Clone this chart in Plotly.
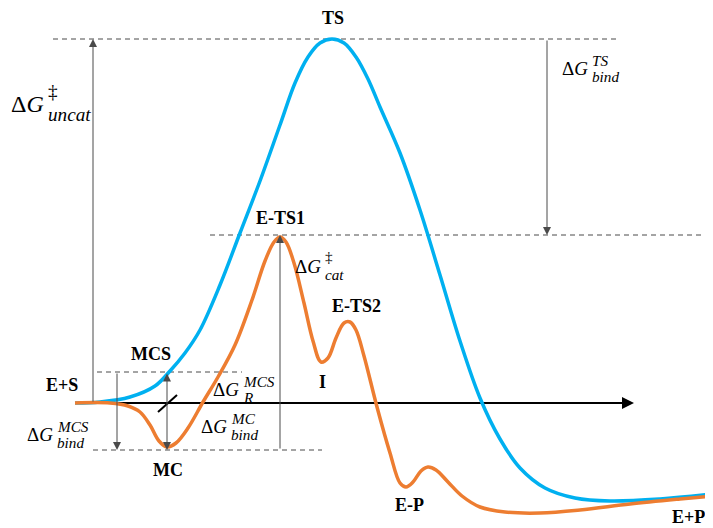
import plotly.graph_objects as go

# ---------------- data (energy relative to E+S = 0, arbitrary units) ----------------
rc_uncat = [75, 100, 130, 155, 170, 185, 200, 220, 240, 260, 280, 295, 308, 320, 332, 344, 356,
            368, 380, 400, 420, 440, 460, 480, 500, 520, 545, 575, 610, 660, 713]
g_uncat = [0, 1, 6, 17, 32, 50, 73, 118, 170, 222, 278, 320, 346, 360, 364, 360, 346,
           324, 296, 250, 193, 128, 62, 5, -36, -65, -85, -95, -98, -96, -91]

rc_cat = [75, 110, 128, 140, 150, 159, 167, 176, 188, 203, 218, 235, 252, 265, 274, 280, 286,
          294, 304, 313, 321, 328, 336, 344, 350, 356, 364, 377, 390, 400, 406, 413, 421, 428,
          436, 448, 462, 480, 505, 540, 580, 630, 680, 713]
g_cat = [0, 0, -3, -9, -22, -38, -44, -40, -25, 1, 26, 58, 103, 142, 161, 166, 161,
         140, 100, 62, 41, 45, 65, 80, 81, 73, 47, -4, -50, -80, -84, -79, -68, -64,
         -67, -79, -93, -104, -109, -110, -107, -101, -96, -93]

levels = {"TS": 364, "E-TS1": 168, "MCS": 31, "MC": -47, "E+S": 0}

state_labels = ["TS", "E-TS1", "E-TS2", "MCS", "E+S", "I", "MC", "E-P", "E+P"]
state_label_x = [333, 280, 356, 151, 62, 322, 168, 409, 688]
state_label_y = [385, 185, 97, 49, 18, 21, -67, -102, -114]

BLUE = "#00B0F0"
ORANGE = "#ED7D31"
GREY = "#4a4a4a"

fig = go.Figure()

# reaction coordinate axis (black line)
fig.add_trace(go.Scatter(x=[85, 628], y=[levels["E+S"]] * 2, mode="lines",
                         line=dict(color="black", width=2), hoverinfo="skip"))
# break mark on the axis
fig.add_trace(go.Scatter(x=[167 - 9, 167 + 10], y=[levels["E+S"] - 9, levels["E+S"] + 8], mode="lines",
                         line=dict(color="black", width=2), hoverinfo="skip"))

fig.add_trace(go.Scatter(x=rc_uncat, y=g_uncat, mode="lines",
                         line=dict(color=BLUE, width=3.5, shape="spline", smoothing=1.0), hoverinfo="skip"))
fig.add_trace(go.Scatter(x=rc_cat, y=g_cat, mode="lines",
                         line=dict(color=ORANGE, width=3.5, shape="spline", smoothing=1.0), hoverinfo="skip"))

# dashed reference levels
dashed = [("TS", 53, 620), ("E-TS1", 210, 705), ("MCS", 97, 242), ("MC", 93, 322)]
for name, x0, x1 in dashed:
    fig.add_shape(type="line", x0=x0, x1=x1, y0=levels[name], y1=levels[name],
                  line=dict(color=GREY, width=1, dash="5px,4px"), layer="below")

# arrowhead of the axis
fig.add_annotation(x=634, y=0, ax=615, ay=0, axref="x", ayref="y", xref="x", yref="y",
                   text="", showarrow=True, arrowhead=2, arrowsize=1.2, arrowwidth=2, arrowcolor="black")

# vertical arrows (x, tip level, tail level, double?)
arrows = [(93, "TS", "E+S", False), (547, "E-TS1", "TS", False), (280, "E-TS1", "MC", False),
          (117, "MC", "MCS", False), (167, "MC", "MCS", True)]
for x, tip, tail, both in arrows:
    fig.add_annotation(x=x, y=levels[tip], ax=x, ay=levels[tail], axref="x", ayref="y",
                       xref="x", yref="y", text="", showarrow=True, arrowhead=2, arrowsize=1.6,
                       arrowwidth=1, arrowcolor=GREY, startarrowhead=2, startarrowsize=1.6,
                       arrowside="end+start" if both else "end")

# state labels
for t, x, y in zip(state_labels, state_label_x, state_label_y):
    fig.add_annotation(x=x, y=y, text=f"<b>{t}</b>", showarrow=False, xanchor="center", yanchor="middle",
                       font=dict(family="Liberation Serif", size=18, color="black"))

# ΔG labels: (junction x, center y, sup, sub, size)
dg_labels = [(46, 299, "‡", "uncat", 24), (590, 335, "TS", "bind", 19), (323, 137, "‡", "cat", 19),
             (241, 14, "MCS", "R", 19), (229, -23, "MC", "bind", 19), (55, -31, "MCS", "bind", 19)]
for xj, yc, sup, sub, sz in dg_labels:
    fig.add_annotation(x=xj, y=yc, text="Δ<i>G</i>", showarrow=False, xanchor="right", yanchor="middle",
                       font=dict(family="Liberation Serif", size=sz, color="black"))
    is_dag = sup == "‡"
    fig.add_annotation(x=xj, y=yc + sz * (0.52 if is_dag else 0.42), text=sup if is_dag else f"<i>{sup}</i>",
                       showarrow=False, xanchor="left", yanchor="middle",
                       font=dict(family="Liberation Serif", size=sz * 0.8, color="black"))
    fig.add_annotation(x=xj, y=yc - sz * 0.45, text=f"<i>{sub}</i>", showarrow=False,
                       xanchor="left", yanchor="middle",
                       font=dict(family="Liberation Serif", size=sz * 0.8, color="black"))

# the page adds an 8 px body margin, so the ranges are offset by 8 px to keep marks in place
fig.update_layout(width=713, height=528, margin=dict(l=0, r=0, t=0, b=0),
                  paper_bgcolor="white", plot_bgcolor="white", showlegend=False,
                  xaxis=dict(range=[8, 721], visible=False, fixedrange=True),
                  yaxis=dict(range=[-133, 395], visible=False, fixedrange=True))

fig.write_html("out.html")
